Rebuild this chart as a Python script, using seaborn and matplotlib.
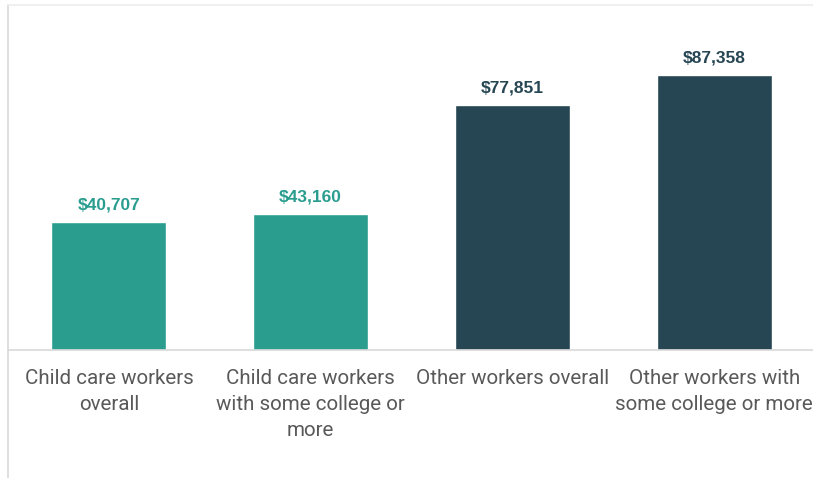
import matplotlib
matplotlib.use("Agg")
import matplotlib.pyplot as plt
import seaborn as sns
import pandas as pd
from matplotlib.lines import Line2D

categories = ["Child care workers\noverall",
              "Child care workers\nwith some college or\nmore",
              "Other workers overall",
              "Other workers with\nsome college or more"]
values = [40707, 43160, 77851, 87358]
colors = ["#2a9d8f", "#2a9d8f", "#264653", "#264653"]

sns.set_theme(style="white")
plt.rcParams['font.family'] = ['Roboto', 'DejaVu Sans']

df = pd.DataFrame({"cat": categories, "val": values})

fig = plt.figure(figsize=(8.13, 4.78), dpi=100)
ax = fig.add_axes([8/813, 128/478, 807/813, 314.8/478])
sns.barplot(data=df, x="cat", y="val", hue="cat", palette=colors, legend=False,
            width=0.57, ax=ax, saturation=1)
ax.set_xlim(-0.5, 3.5)
ax.set_ylim(0, 100000)
ax.set_xlabel("")
ax.set_ylabel("")
ax.set_yticks([])
for s in ["top", "right", "left"]:
    ax.spines[s].set_visible(False)
ax.spines["bottom"].set_color("#d9d9d9")
ax.spines["bottom"].set_linewidth(1.2)
ax.tick_params(axis="x", length=0, pad=14, labelsize=14.8, labelcolor="#595959")
for lab in ax.get_xticklabels():
    lab.set_linespacing(1.45)

for i, (v, c) in enumerate(zip(values, colors)):
    ax.annotate(f"${v:,}", (i, v), xytext=(0, 7), textcoords="offset points",
                ha="center", va="bottom", fontsize=12.5, fontweight="bold",
                color=c, family=["Liberation Sans", "DejaVu Sans"])

fig.add_artist(Line2D([8/813, 8/813], [0, 1 - 5/478], transform=fig.transFigure,
                      color="#d9d9d9", lw=1.2))
fig.add_artist(Line2D([8/813, 1], [1 - 5/478, 1 - 5/478], transform=fig.transFigure,
                      color="#eeeeee", lw=1.2))
ax.patch.set_alpha(0)

fig.savefig("out.png", dpi=100)
